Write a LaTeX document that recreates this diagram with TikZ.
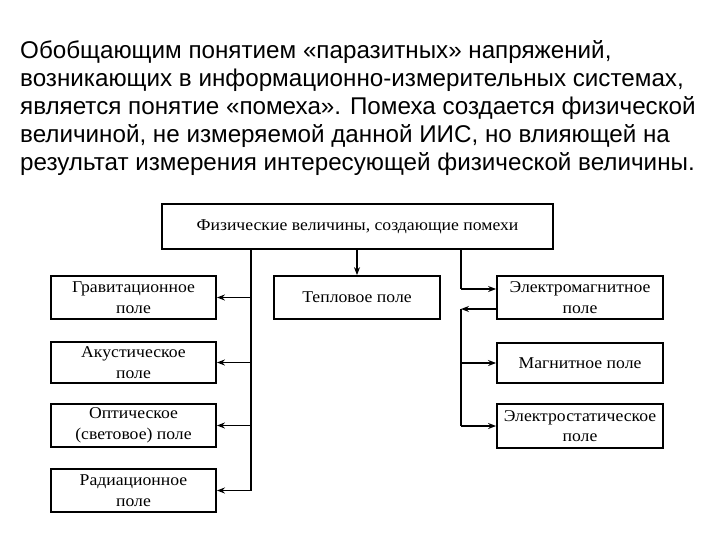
\documentclass[tikz,border=0pt]{standalone}
\usepackage{fontspec}
\setmainfont{Liberation Serif}
\newfontfamily\titlefont{Liberation Sans}
\usetikzlibrary{arrows.meta}
\begin{document}
\begin{tikzpicture}[x=1pt,y=-1pt,
  box/.style={draw,line width=1.7pt,inner sep=0pt,align=center,xscale=1.071,
    font=\fontsize{16.5}{20.5}\selectfont},
  arr/.style={line width=1.5pt,-{Stealth[length=8pt,width=6pt]}},
  ln/.style={line width=1.5pt},
  tline/.style={anchor=base west,inner sep=0pt,
    font=\titlefont\fontsize{24.2}{25}\selectfont}]
\useasboundingbox (0,0) rectangle (720,540);
% title text
\node[tline] (t1) at (20,59) {Обобщающим понятием «паразитных» напряжений,};
\node[tline] (t2) at (20,87) {возникающих в информационно-измерительных системах,};
\node[tline] (t3) at (20,115) {является понятие «помеха». Помеха создается физической};
\node[tline] (t4) at (20,143) {величиной, не измеряемой данной ИИС, но влияющей на};
\node[tline] (t5) at (20,171) {результат измерения интересующей физической величины.};
% boxes
\node[box,minimum width=365.1pt,minimum height=45pt] (top) at (357.5,226.5) {Физические величины, создающие помехи};
\node[box,minimum width=154.1pt,minimum height=43pt] (grav) at (133.5,297.5) {Гравитационное\\поле};
\node[box,minimum width=154.1pt,minimum height=41pt] (akust) at (133.5,362.5) {Акустическое\\поле};
\node[box,minimum width=154.1pt,minimum height=43pt] (optic) at (133.5,425.5) {Оптическое\\(световое) поле};
\node[box,minimum width=154.1pt,minimum height=43pt] (radiac) at (133.5,490.5) {Радиационное\\поле};
\node[box,minimum width=155pt,minimum height=43pt] (tepl) at (357,297.5) {Тепловое поле};
\node[box,minimum width=155pt,minimum height=43pt] (em) at (580,297.5) {Электромагнитное\\поле};
\node[box,minimum width=155pt,minimum height=40pt] (magn) at (580,363) {Магнитное поле};
\node[box,minimum width=155pt,minimum height=44pt] (estat) at (580,426) {Электростатическое\\поле};
% connectors
\draw[arr] (tepl.north |- top.south) -- (tepl.north);
\coordinate (lt) at (251,249);
\coordinate (lb) at (251,490.5);
\draw[ln] (lt) -- (lb);
\draw[arr] (lt |- grav) -- (grav.east);
\draw[arr] (lt |- akust) -- (akust.east);
\draw[arr] (lt |- optic) -- (optic.east);
\draw[arr] (lb) -- (radiac.east);
\coordinate (rt) at (461,249);
\coordinate (r1) at (461,289);
\coordinate (r2) at (461,309);
\coordinate (r3) at (461,426);
\draw[ln] (rt) -- (r1);
\draw[arr] (r1) -- (r1 -| em.west);
\draw[arr] (r2 -| em.west) -- (r2);
\draw[ln] (r2) -- (r3);
\draw[arr] (r2 |- magn) -- (magn.west);
\draw[arr] (r3) -- (estat.west);
\end{tikzpicture}
\end{document}
